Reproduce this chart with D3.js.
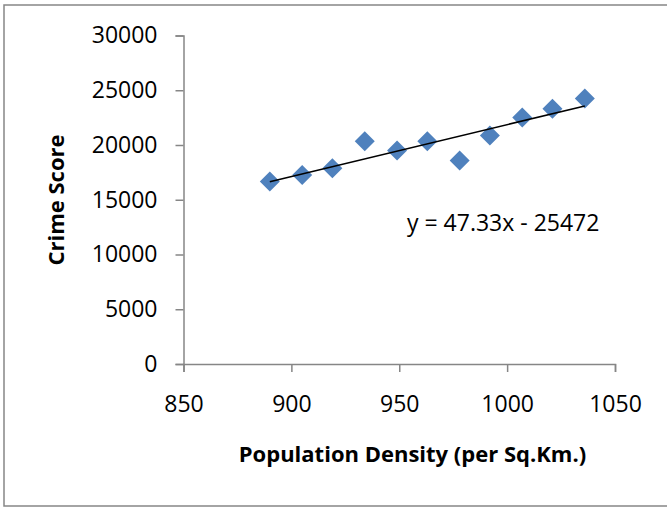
<!DOCTYPE html>
<html>
<head>
<meta charset="utf-8">
<script src="https://cdn.jsdelivr.net/npm/d3@7"></script>
<style>
  html, body { margin: 0; padding: 0; background: #fff; }
  svg { display: block; }
  .tick text { font-family: "Open Sans", sans-serif; fill: #000; }
</style>
</head>
<body>
<svg id="chart" width="667" height="508"></svg>
<script>
// Population density (per sq. km) and crime score per district
const density = [890, 905, 919, 934, 949, 963, 978, 992, 1007, 1021, 1036];
const crimeScore = [16660, 17270, 17870, 20340, 19490, 20340, 18580, 20860, 22510, 23300, 24240];

// Least-squares trendline as reported on the chart
const trendSlope = 47.33;
const trendIntercept = -25472;
const trendLabel = "y = 47.33x - 25472";

const xTicks = [850, 900, 950, 1000, 1050];
const yTicks = [0, 5000, 10000, 15000, 20000, 25000, 30000];

const xTitle = "Population Density (per Sq.Km.)";
const yTitle = "Crime Score";

const svg = d3.select("#chart");
const plot = { left: 183.5, right: 615, top: 35.5, bottom: 364 };
const axisColor = "#868686";
const markerColor = "#4F81BD";

// Chart area border (extends past the right edge of the page)
svg.append("rect")
  .attr("x", 4).attr("y", 5)
  .attr("width", 720).attr("height", 501)
  .attr("fill", "#fff")
  .attr("stroke", axisColor)
  .attr("stroke-width", 1.5);

const x = d3.scaleLinear().domain([850, 1050]).range([plot.left, plot.right]);
const y = d3.scaleLinear().domain([0, 30000]).range([plot.bottom, plot.top]);

const xAxis = svg.append("g")
  .attr("transform", `translate(0,${plot.bottom})`)
  .call(d3.axisBottom(x).tickValues(xTicks).tickFormat(d3.format("d"))
    .tickSize(8).tickSizeOuter(8).tickPadding(24));

const yAxis = svg.append("g")
  .attr("transform", `translate(${plot.left},0)`)
  .call(d3.axisLeft(y).tickValues(yTicks).tickFormat(d3.format("d"))
    .tickSize(8).tickSizeOuter(8).tickPadding(18));

[xAxis, yAxis].forEach(g => {
  g.select(".domain").attr("stroke", axisColor).attr("stroke-width", 1.5);
  g.selectAll(".tick line").attr("stroke", axisColor).attr("stroke-width", 1.5);
  g.selectAll(".tick text").attr("font-size", 23);
});

// Diamond markers
const diamond = d3.symbol().type(d3.symbolSquare).size(200);
svg.append("g")
  .selectAll("path")
  .data(density.map((d, i) => [d, crimeScore[i]]))
  .join("path")
  .attr("d", diamond)
  .attr("transform", d => `translate(${x(d[0])},${y(d[1])}) rotate(45)`)
  .attr("fill", markerColor);

// Linear trendline spanning the data range
const xMin = d3.min(density), xMax = d3.max(density);
svg.append("line")
  .attr("x1", x(xMin)).attr("y1", y(trendSlope * xMin + trendIntercept))
  .attr("x2", x(xMax)).attr("y2", y(trendSlope * xMax + trendIntercept))
  .attr("stroke", "#000")
  .attr("stroke-width", 1.6);

// Trendline equation
svg.append("text")
  .attr("x", 407).attr("y", 231)
  .attr("font-family", "'Open Sans', sans-serif")
  .attr("font-size", 23)
  .text(trendLabel);

// Axis titles
svg.append("text")
  .attr("x", 412.5).attr("y", 462)
  .attr("text-anchor", "middle")
  .attr("font-family", "'Open Sans', sans-serif")
  .attr("font-weight", "bold")
  .attr("font-size", 22)
  .text(xTitle);

svg.append("text")
  .attr("transform", "translate(64,200) rotate(-90)")
  .attr("text-anchor", "middle")
  .attr("font-family", "'Open Sans', sans-serif")
  .attr("font-weight", "bold")
  .attr("font-size", 22)
  .text(yTitle);
</script>
</body>
</html>
